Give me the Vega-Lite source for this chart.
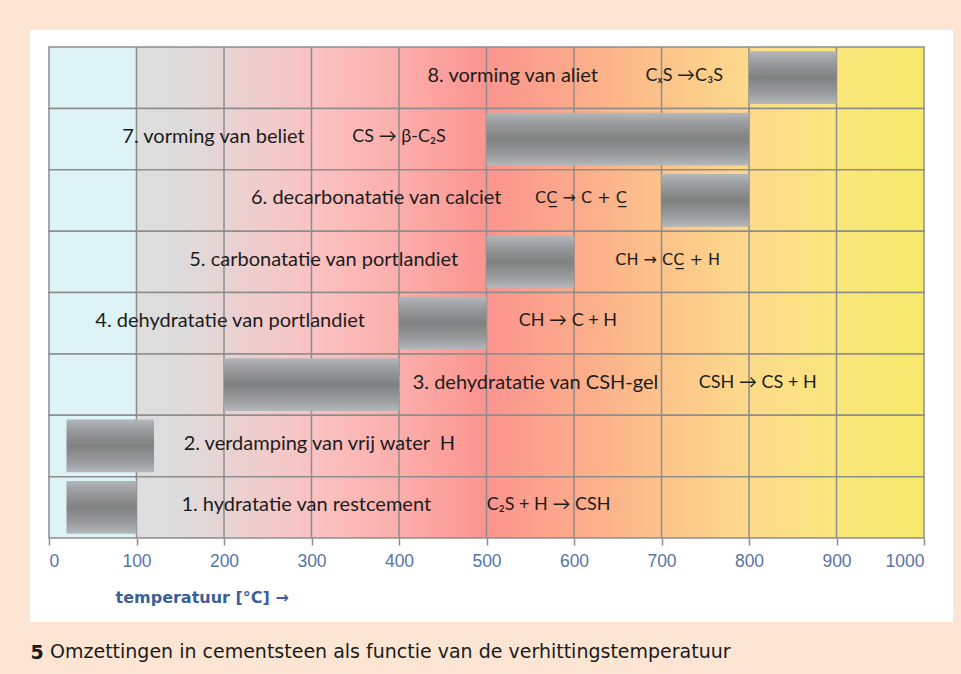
{
  "$schema": "https://vega.github.io/schema/vega-lite/v6.json",
  "autosize": "none",
  "width": 923,
  "height": 592,
  "padding": {"left": 30, "top": 30, "right": 8, "bottom": 52},
  "background": "#fde5d3",
  "config": {"view": {"fill": "white", "stroke": null}},
  "title": {
    "text": "Omzettingen in cementsteen als functie van de verhittingstemperatuur",
    "orient": "bottom",
    "anchor": "start",
    "frame": "group",
    "offset": -19.5,
    "dx": 20,
    "font": "DejaVu Sans",
    "fontSize": 19,
    "fontWeight": "normal",
    "color": "#1a1a1a"
  },
  "datasets": {
    "rijen": [
      {"rij": "8", "van": 800, "tot": 900, "label": "8. vorming van aliet", "xl": 530, "formule": "CₓS →C₃S", "xf": 726},
      {"rij": "7", "van": 500, "tot": 800, "label": "7. vorming van beliet", "xl": 188, "formule": "CS → β-C₂S", "xf": 400},
      {"rij": "6", "van": 700, "tot": 800, "label": "6. decarbonatatie van calciet", "xl": 374, "formule": "CC̲ → C + C̲", "xf": 608},
      {"rij": "5", "van": 500, "tot": 600, "label": "5. carbonatatie van portlandiet", "xl": 314, "formule": "CH → CC̲ + H", "xf": 707},
      {"rij": "4", "van": 400, "tot": 500, "label": "4. dehydratatie van portlandiet", "xl": 207, "formule": "CH → C + H", "xf": 593},
      {"rij": "3", "van": 200, "tot": 400, "label": "3. dehydratatie van CSH-gel", "xl": 556, "formule": "CSH → CS + H", "xf": 810},
      {"rij": "2", "van": 20, "tot": 120, "label": "2. verdamping van vrij water\u00a0 H", "xl": 309, "formule": null, "xf": null},
      {"rij": "1", "van": 20, "tot": 100, "label": "1. hydratatie van restcement", "xl": 294, "formule": "C₂S + H → CSH", "xf": 571}
    ],
    "ticks": [{"t": 100}, {"t": 200}, {"t": 300}, {"t": 400}, {"t": 500}, {"t": 600}, {"t": 700}, {"t": 800}, {"t": 900}]
  },
  "layer": [
    {
      "data": {"name": "rijen"},
      "mark": {
        "type": "rect",
        "stroke": "#8d8d8d",
        "strokeWidth": 1.5,
        "fill": {
          "gradient": "linear", "x1": 0, "y1": 0, "x2": 1, "y2": 0,
          "stops": [
            {"offset": 0, "color": "#ddf3f6"},
            {"offset": 0.099, "color": "#ddf3f6"},
            {"offset": 0.1, "color": "#dedede"},
            {"offset": 0.15, "color": "#dddcdc"},
            {"offset": 0.2, "color": "#e8d3d3"},
            {"offset": 0.3, "color": "#f9c3c2"},
            {"offset": 0.4, "color": "#fcaeab"},
            {"offset": 0.5, "color": "#fb948f"},
            {"offset": 0.6, "color": "#fcaa8a"},
            {"offset": 0.7, "color": "#fcc38a"},
            {"offset": 0.8, "color": "#fdda8b"},
            {"offset": 0.9, "color": "#f9e67c"},
            {"offset": 1, "color": "#f6e96a"}
          ]
        }
      },
      "encoding": {
        "x": {"datum": 0, "type": "quantitative", "scale": {"domain": [0, 1000], "range": [19, 894], "nice": false}, "axis": {
          "values": [0, 100, 200, 300, 400, 500, 600, 700, 800, 900, 1000],
          "format": "d",
          "offset": -84,
          "grid": false,
          "domain": false,
          "tickColor": "#8d8d8d",
          "tickSize": 7,
          "tickWidth": 1.5,
          "labelFont": "Liberation Sans",
          "labelFontSize": 17.5,
          "labelColor": "#5674aa",
          "labelPadding": 7,
          "title": "temperatuur [°C] →",
          "titleFont": "DejaVu Sans",
          "titleFontSize": 16,
          "titleFontWeight": "bold",
          "titleColor": "#3a5f9a",
          "titleAnchor": "start",
          "titleAlign": "left",
          "titleBaseline": "middle",
          "titleX": 85,
          "titleY": 59
        }},
        "x2": {"datum": 1000},
        "y": {"field": "rij", "type": "nominal", "scale": {"domain": ["8", "7", "6", "5", "4", "3", "2", "1"], "range": [17, 508], "paddingInner": 0, "paddingOuter": 0}, "axis": {
          "labels": false,
          "ticks": false,
          "domain": false,
          "grid": false,
          "title": "5",
          "titleAngle": 0,
          "titleFont": "DejaVu Sans",
          "titleFontSize": 19,
          "titleFontWeight": "bold",
          "titleColor": "#1a1a1a",
          "titleAlign": "left",
          "titleBaseline": "middle",
          "titleAnchor": "start",
          "titleX": 0,
          "titleY": 622
        }}
      }
    },
    {
      "data": {"name": "ticks"},
      "mark": {"type": "rule", "color": "#8d8d8d", "strokeWidth": 1.5},
      "encoding": {
        "x": {"field": "t", "type": "quantitative"},
        "y": {"datum": "8", "type": "nominal", "bandPosition": 0},
        "y2": {"datum": "1", "bandPosition": 1}
      }
    },
    {
      "data": {"name": "rijen"},
      "mark": {
        "type": "bar",
        "height": {"band": 0.86},
        "fill": {
          "gradient": "linear", "x1": 0, "y1": 0, "x2": 0, "y2": 1,
          "stops": [
            {"offset": 0, "color": "#b4b8bb"},
            {"offset": 0.2, "color": "#9a9c9e"},
            {"offset": 0.5, "color": "#808080"},
            {"offset": 0.8, "color": "#9a9c9e"},
            {"offset": 1, "color": "#b4b8bb"}
          ]
        }
      },
      "encoding": {
        "x": {"field": "van", "type": "quantitative"},
        "x2": {"field": "tot"},
        "y": {"field": "rij", "type": "nominal"}
      }
    },
    {
      "data": {"name": "rijen"},
      "mark": {"type": "text", "font": "Lato", "fontSize": 20, "color": "#1c1c1c", "align": "center", "baseline": "middle", "dy": -2},
      "encoding": {
        "x": {"field": "xl", "type": "quantitative"},
        "y": {"field": "rij", "type": "nominal"},
        "text": {"field": "label"}
      }
    },
    {
      "data": {"name": "rijen"},
      "transform": [{"filter": {"not": {"field": "rij", "oneOf": ["5", "6"]}}}],
      "mark": {"type": "text", "font": "Lato", "fontSize": 18, "color": "#1c1c1c", "align": "center", "baseline": "middle", "dy": -2},
      "encoding": {
        "x": {"field": "xf", "type": "quantitative"},
        "y": {"field": "rij", "type": "nominal"},
        "text": {"field": "formule"}
      }
    },
    {
      "data": {"name": "rijen"},
      "transform": [{"filter": {"field": "rij", "oneOf": ["5", "6"]}}],
      "mark": {"type": "text", "font": "DejaVu Sans", "fontSize": 16, "color": "#1c1c1c", "align": "center", "baseline": "middle", "dy": -2},
      "encoding": {
        "x": {"field": "xf", "type": "quantitative"},
        "y": {"field": "rij", "type": "nominal"},
        "text": {"field": "formule"}
      }
    }
  ]
}
